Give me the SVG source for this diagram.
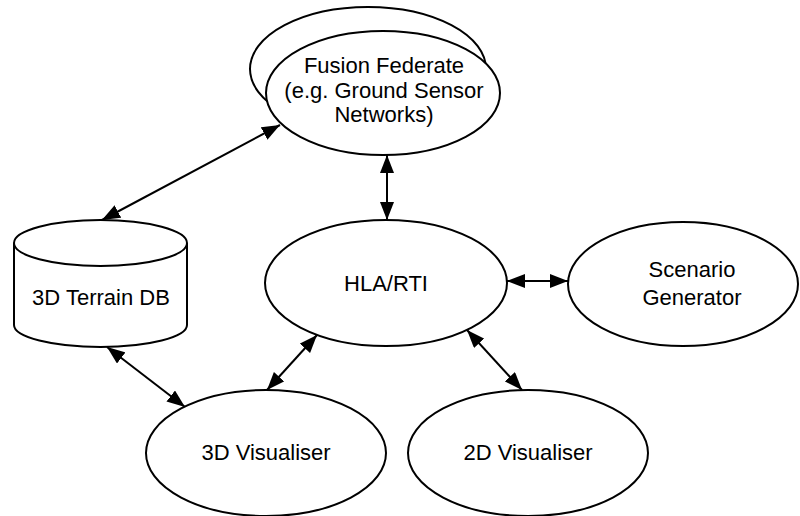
<svg xmlns="http://www.w3.org/2000/svg" width="800" height="516" viewBox="0 0 800 516">
  <style>
    .shape { fill: #ffffff; stroke: #000000; stroke-width: 2; }
    .label { font-family: "Liberation Sans", Arial, sans-serif; font-size: 22px; fill: #000000; text-anchor: middle; }
    .link { stroke: #000000; stroke-width: 2; fill: none; marker-start: url(#head); marker-end: url(#head); }
  </style>
  <defs>
    <marker id="head" markerUnits="userSpaceOnUse" markerWidth="18" markerHeight="14" refX="18" refY="7" orient="auto-start-reverse">
      <path d="M0,0 L18,7 L0,14 Z" fill="#000000"/>
    </marker>
  </defs>
  <rect width="800" height="516" fill="#ffffff"/>

  <!-- connectors -->
  <g id="connectors">
    <line class="link" x1="280" y1="125" x2="102" y2="220"/>
    <line class="link" x1="387" y1="155" x2="387" y2="220"/>
    <line class="link" x1="507" y1="281" x2="568" y2="281"/>
    <line class="link" x1="317" y1="335" x2="267" y2="390"/>
    <line class="link" x1="467" y1="330" x2="522" y2="390"/>
    <line class="link" x1="107" y1="347" x2="185" y2="407"/>
  </g>

  <!-- stacked federate ellipses -->
  <g id="fusion-federate">
    <ellipse class="shape" cx="368" cy="69" rx="118" ry="62"/>
    <ellipse class="shape" cx="383" cy="93" rx="117" ry="62"/>
    <text class="label" x="384" y="73">Fusion Federate</text>
    <text class="label" x="384" y="98">(e.g. Ground Sensor</text>
    <text class="label" x="384" y="122">Networks)</text>
  </g>

  <g id="terrain-db">
    <path class="shape" d="M14,243 L14,325 A86.5,22 0 0 0 187,325 L187,243"/>
    <ellipse class="shape" cx="100.5" cy="243" rx="86.5" ry="23"/>
    <text class="label" x="101" y="305">3D Terrain DB</text>
  </g>

  <g id="hla-rti">
    <ellipse class="shape" cx="386" cy="283" rx="121" ry="63"/>
    <text class="label" x="386" y="291">HLA/RTI</text>
  </g>

  <g id="scenario-generator">
    <ellipse class="shape" cx="683" cy="284" rx="115" ry="62"/>
    <text class="label" x="692" y="277">Scenario</text>
    <text class="label" x="692" y="305">Generator</text>
  </g>

  <g id="visualiser-3d">
    <ellipse class="shape" cx="266" cy="453" rx="120" ry="63"/>
    <text class="label" x="266" y="460">3D Visualiser</text>
  </g>

  <g id="visualiser-2d">
    <ellipse class="shape" cx="528" cy="453" rx="120" ry="63"/>
    <text class="label" x="528" y="460">2D Visualiser</text>
  </g>
</svg>
